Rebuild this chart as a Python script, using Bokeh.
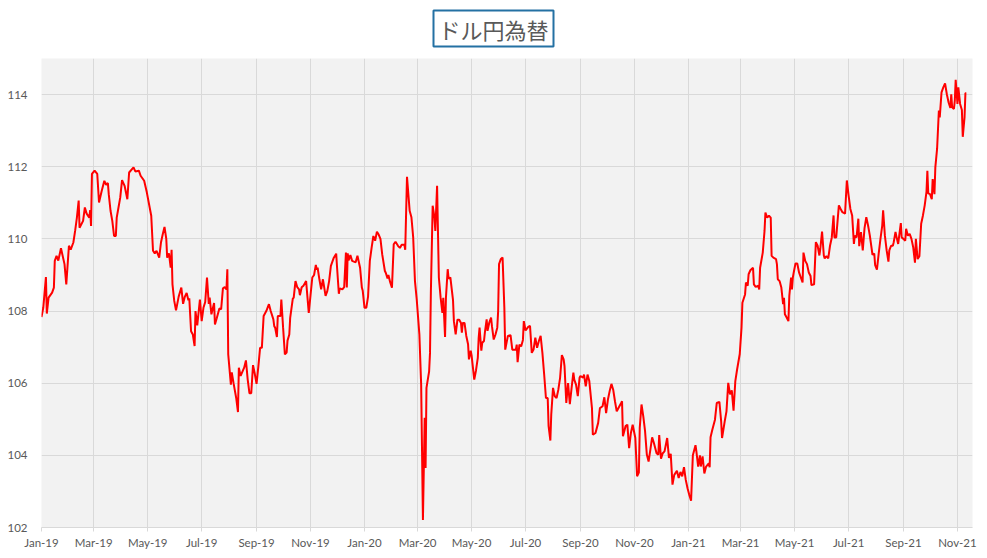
import numpy as np
import pandas as pd
from bokeh.plotting import figure
from bokeh.models import Range1d, FixedTicker, DatetimeTickFormatter, Title
from bokeh.embed import file_html
from bokeh.resources import INLINE

# ---- data ----
start_date = "2019-01-01"
days_since_start = [
    0, 2, 5, 6, 8, 12, 14, 15, 17, 19, 22, 26, 28, 31, 33, 36, 38, 40, 42, 43, 47, 49, 51, 54, 55, 56, 57, 60, 63, 65,
    68, 71, 73, 75, 76, 78, 80, 82, 84, 85, 87, 89, 91, 94, 97, 99, 104, 106, 110, 112, 116, 119, 124, 126, 128, 130,
    133, 135, 137, 139, 141, 142, 144, 146, 147, 148, 150, 152, 155, 158, 160, 162, 164, 166, 167, 169, 171, 173, 174,
    176, 179, 181, 183, 185, 187, 189, 190, 192, 195, 196, 198, 201, 203, 205, 207, 209, 210, 211, 214, 215, 217, 220,
    222, 223, 225, 229, 231, 233, 235, 237, 239, 241, 243, 245, 247, 249, 251, 254, 257, 259, 262, 263, 264, 266, 267,
    270, 271, 273, 275, 277, 278, 280, 281, 284, 285, 287, 289, 291, 292, 294, 296, 299, 302, 304, 306, 308, 310, 311,
    312, 314, 316, 318, 321, 323, 325, 327, 330, 333, 334, 336, 337, 340, 342, 344, 345, 346, 347, 349, 351, 355, 357,
    360, 362, 363, 365, 367, 369, 371, 373, 375, 377, 379, 381, 383, 385, 388, 389, 391, 392, 394, 396, 398, 400, 403,
    405, 407, 410, 411, 413, 416, 418, 420, 422, 424, 427, 429, 430, 431, 433, 434, 435, 438, 439, 440, 442, 444, 445,
    447, 449, 451, 453, 454, 456, 457, 459, 460, 462, 465, 466, 468, 470, 472, 474, 475, 476, 478, 480, 482, 483, 485,
    486, 487, 489, 491, 493, 494, 495, 497, 498, 500, 501, 503, 504, 506, 508, 509, 511, 513, 515, 516, 517, 519, 521,
    523, 524, 527, 530, 532, 536, 537, 538, 540, 542, 544, 545, 547, 550, 552, 554, 556, 558, 560, 562, 564, 566, 568,
    570, 572, 573, 575, 576, 578, 580, 582, 584, 586, 588, 590, 591, 593, 595, 597, 599, 601, 602, 604, 606, 608, 609,
    612, 613, 615, 617, 619, 622, 623, 626, 629, 631, 634, 636, 638, 640, 642, 644, 646, 648, 650, 653, 655, 656, 657,
    660, 662, 664, 666, 668, 671, 673, 675, 676, 678, 680, 682, 684, 686, 688, 690, 692, 695, 697, 698, 700, 702, 704,
    707, 709, 711, 713, 715, 718, 720, 722, 724, 726, 728, 730, 732, 734, 736, 739, 740, 742, 744, 745, 747, 749, 751,
    754, 755, 756, 758, 761, 763, 766, 768, 769, 772, 774, 776, 778, 780, 782, 784, 786, 789, 791, 792, 795, 796, 798,
    799, 801, 804, 805, 807, 810, 811, 812, 815, 817, 818, 820, 822, 824, 825, 827, 830, 831, 832, 834, 836, 838, 839,
    840, 842, 844, 845, 847, 848, 849, 850, 852, 854, 856, 858, 860, 861, 863, 865, 867, 869, 870, 873, 875, 877, 879,
    880, 882, 884, 885, 887, 889, 891, 893, 895, 896, 898, 901, 903, 905, 908, 910, 912, 914, 916, 918, 919, 921, 923,
    924, 926, 928, 930, 932, 934, 936, 939, 941, 942, 944, 946, 948, 950, 951, 953, 955, 957, 958, 960, 962, 963, 965,
    966, 968, 971, 972, 974, 976, 977, 979, 981, 983, 985, 987, 988, 990, 992, 994, 996, 998, 1000, 1001, 1002, 1004,
    1006, 1007, 1009, 1010, 1012, 1014, 1015, 1017, 1019, 1021, 1023, 1025, 1027, 1028, 1029, 1031, 1032, 1033, 1035,
    1036, 1038, 1040, 1041, 1043, 1044, 1045,
]
usdjpy = [
    107.83, 108.09, 108.94, 107.93, 108.37, 108.51, 108.65, 109.39, 109.53, 109.40, 109.74, 109.30, 108.74, 109.81,
    109.70, 109.90, 110.22, 110.59, 111.06, 110.31, 110.50, 110.87, 110.70, 110.59, 110.80, 110.36, 111.80, 111.89,
    111.80, 111.01, 111.33, 111.61, 111.50, 111.55, 111.24, 110.78, 110.50, 110.08, 110.08, 110.59, 110.87, 111.15,
    111.63, 111.46, 111.10, 111.84, 111.98, 111.87, 111.89, 111.75, 111.61, 111.29, 110.64, 109.67, 109.60, 109.67,
    109.48, 109.90, 110.13, 110.33, 110.00, 109.48, 109.60, 109.20, 109.70, 108.74, 108.28, 108.02, 108.40, 108.65,
    108.20, 108.40, 108.50, 108.30, 108.35, 107.44, 107.35, 107.03, 108.00, 107.60,
    108.32, 107.72, 108.09, 108.25, 108.93, 108.20, 108.37, 107.91, 108.22, 107.63, 107.80, 108.07, 108.05, 108.63,
    108.66, 108.60, 109.16, 106.80, 105.96, 106.30, 106.00, 105.59, 105.20, 106.43, 106.20, 106.43, 106.63, 106.10,
    105.72, 105.72, 106.50, 106.26, 105.98, 106.45, 106.98, 106.98, 107.86, 108.00, 108.19, 108.00, 107.77, 107.58,
    107.54, 107.28, 107.86, 107.86, 108.32, 107.54, 106.80, 106.85, 107.18, 107.35, 107.81, 108.35, 108.37, 108.83,
    108.66, 108.60, 108.44, 108.66, 108.70, 108.83, 107.95, 108.44, 108.93, 109.00, 109.28, 109.15, 109.20, 108.88,
    108.60, 108.88, 108.42, 108.56, 108.83, 109.25, 109.46, 109.59, 109.20, 108.48, 108.63, 108.60, 108.66, 109.62,
    108.65, 109.60, 109.40, 109.55, 109.39, 109.35, 109.53, 109.20, 108.65, 108.56, 108.09, 108.09, 108.40, 109.39,
    109.75, 110.08, 109.95, 110.20, 110.12, 110.00, 109.57, 109.11, 109.06, 108.90, 109.00, 108.80, 108.65, 109.85,
    109.92, 109.80, 109.75, 109.84, 109.84, 109.70, 111.72, 110.78, 110.60, 110.04, 108.83, 108.32, 107.35, 105.96,
    104.11, 102.21, 105.04, 103.65, 105.87, 106.33, 106.84, 108.56, 110.92, 110.60, 110.22, 111.47, 108.93, 108.37,
    107.95, 108.37, 107.28, 108.37, 109.16, 108.90, 108.93, 108.30, 107.72, 107.35, 107.76, 107.76, 107.67, 107.40,
    107.67, 107.67, 107.31, 107.08, 106.66, 106.90, 106.77, 106.54, 106.10, 106.36, 106.70, 107.26, 107.54, 106.90,
    107.12, 107.17, 107.40, 107.77, 107.45, 107.68, 107.82, 107.58, 107.21, 107.35, 107.54, 108.00, 109.30, 109.44,
    109.48,
    108.09, 106.93, 107.31, 107.33, 106.93, 106.93, 107.07, 106.58, 107.07, 107.02, 107.20, 107.72, 107.46, 107.56,
    107.59, 106.84, 106.93, 107.26, 106.98, 107.17, 107.31, 106.84, 106.24, 105.59, 105.59, 104.81, 104.41, 105.13,
    105.87, 105.64, 105.59, 105.82, 106.15, 106.78, 106.66, 106.47, 105.45, 106.00, 105.42, 105.87, 106.29, 106.10,
    105.96, 105.64, 106.15, 106.20, 106.15, 106.24, 105.91, 106.24, 106.06, 105.31, 104.57, 104.62, 104.90, 105.31,
    105.36, 105.61, 105.17, 105.54, 105.78, 105.98, 105.82, 105.50, 105.22, 105.36, 105.45, 105.50, 104.53, 104.81,
    104.85, 104.20, 104.62, 104.85, 104.48, 103.42, 103.52, 104.76, 105.41, 105.08, 104.67, 104.02, 103.83, 104.16,
    104.50, 104.34, 104.06, 104.02,
    104.56, 103.91, 104.06, 104.11, 104.48, 103.93, 104.04, 103.19, 103.46, 103.57, 103.37, 103.54, 103.42, 103.67,
    103.32, 103.09, 102.90, 102.74, 104.00, 104.28, 104.11, 103.69, 104.00, 103.69, 103.97, 103.50, 103.69, 103.78,
    103.67, 104.50, 104.71, 104.99, 105.45, 105.48, 104.94, 104.48, 104.94, 105.22, 106.01, 105.69, 105.80, 105.24,
    106.06, 106.38, 106.81, 107.54, 108.23, 108.46, 108.79, 108.70, 109.02, 109.13, 109.20, 108.74, 108.67, 108.70,
    108.60, 109.20, 109.62, 110.22, 110.73, 110.59, 110.64, 110.59, 109.53, 109.48, 109.44, 109.30, 108.88, 108.83,
    108.65, 108.19, 108.37, 107.91, 107.82, 107.72, 108.42, 108.93, 108.60, 108.93, 109.07, 109.32, 109.32, 109.07,
    108.93, 108.79, 109.62, 109.39, 109.30, 109.07, 108.97, 108.72, 108.74,
    109.91, 109.81, 109.54, 109.72, 110.20, 109.54, 109.46, 109.52, 109.46, 109.81, 110.04, 110.65, 110.04, 110.04,
    110.93, 110.83, 110.74, 110.70, 111.62, 111.20, 110.83, 110.65, 109.86, 110.09, 110.04, 110.56, 109.80, 110.19,
    109.68, 110.30, 110.60, 110.37, 110.09, 109.56, 109.59, 109.27, 109.15, 109.59, 110.00, 110.37, 110.79, 110.09,
    109.68, 109.37, 109.68, 109.81, 109.81, 109.91, 110.19, 110.07, 109.86, 110.44, 110.04, 110.00, 109.95, 110.28,
    110.09, 110.14, 110.00, 109.77, 109.34, 110.00, 109.44, 109.52, 110.42, 110.65, 110.93, 111.30, 111.89, 111.26,
    111.24, 111.10, 111.66, 111.24, 111.98, 112.50, 113.56, 113.37, 114.06, 114.20, 114.31, 114.01, 113.78, 113.63,
    114.01, 113.65, 113.60, 113.83, 114.41, 113.74, 114.20, 113.74, 113.57, 112.83, 113.37, 114.04, 114.04,
]
y_ticks = [102, 104, 106, 108, 110, 112, 114]
x_axis_start = "2019-01-01"
x_axis_end = "2021-11-18"
title_text = "ドル円為替"

dates = pd.Timestamp(start_date) + pd.to_timedelta(days_since_start, unit="D")
tick_dates = pd.date_range("2019-01-01", "2021-11-01", freq="2MS")
tick_ms = [int(t.value // 10**6) for t in tick_dates]

FONT = "Lato"
GRID = "#d9d9d9"
LABEL = "#595959"

p = figure(
    width=987, height=558,
    x_axis_type="datetime",
    x_range=Range1d(pd.Timestamp(x_axis_start), pd.Timestamp(x_axis_end)),
    y_range=Range1d(102, 115),
    output_backend="svg", toolbar_location=None,
    min_border_left=41, min_border_right=15, min_border_top=58, min_border_bottom=31,
    background_fill_color="#f2f2f2", border_fill_color="white",
    title=None,
)
p.outline_line_color = None

t = Title(text=title_text, align="left", vertical_align="top", text_font="Noto Sans CJK JP",
          text_font_size="22px", text_color=LABEL, text_font_style="normal",
          border_line_color="#2471A3", border_line_width=2, background_fill_color="white",
          padding=dict(left=5, right=5, top=2, bottom=2), offset=392, standoff=20)
p.add_layout(t, "above")

p.line(dates, usdjpy, line_color="#ff0000", line_width=2)

p.xaxis.ticker = FixedTicker(ticks=tick_ms)
p.xaxis.formatter = DatetimeTickFormatter(days="%b-%y", months="%b-%y", years="%b-%y")
p.xaxis.axis_line_color = GRID
p.xaxis.major_tick_line_color = GRID
p.xaxis.major_tick_out = 4
p.xaxis.major_tick_in = 0
p.xaxis.minor_tick_line_color = None
p.xaxis.major_label_standoff = 4
p.xaxis.axis_label_standoff = 0

p.yaxis.ticker = FixedTicker(ticks=y_ticks)
p.yaxis.axis_line_color = None
p.yaxis.major_tick_line_color = None
p.yaxis.minor_tick_line_color = None
p.yaxis.major_tick_out = 0
p.yaxis.major_label_standoff = 14
p.yaxis.axis_label_standoff = 0

for ax in (p.xaxis, p.yaxis):
    ax.major_label_text_font = FONT
    ax.major_label_text_font_size = "11.5px"
    ax.major_label_text_color = LABEL

p.xgrid.ticker = FixedTicker(ticks=tick_ms)
p.ygrid.ticker = FixedTicker(ticks=y_ticks)
p.xgrid.grid_line_color = GRID
p.ygrid.grid_line_color = GRID

open("out.html", "w").write(file_html(p, INLINE))
